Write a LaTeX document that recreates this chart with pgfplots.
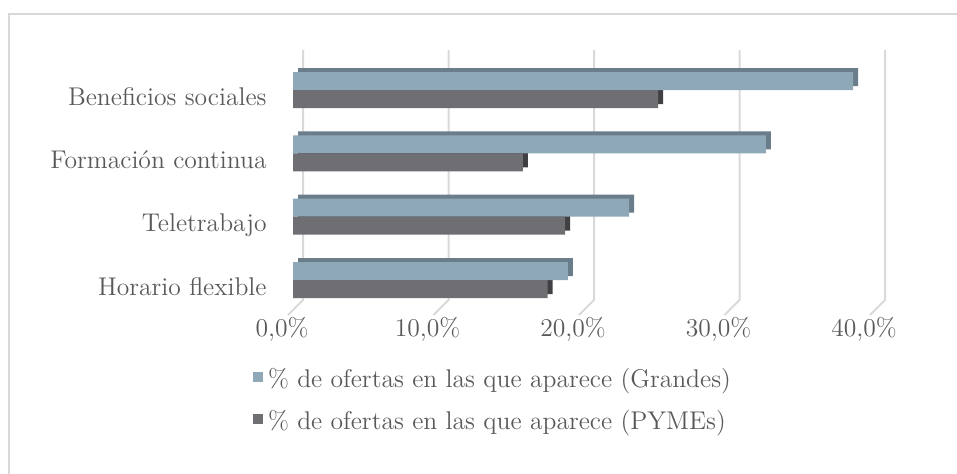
\documentclass[border=0pt]{standalone}
\usepackage{pgfplots}
\pgfplotsset{compat=1.18}

\definecolor{txt}{HTML}{595959}
\definecolor{gridc}{HTML}{D9D9D9}
\definecolor{grandes}{HTML}{8FA8B8}
\definecolor{grandesdk}{HTML}{6A7D8B}
\definecolor{pymes}{HTML}{6F6E73}
\definecolor{pymesdk}{HTML}{404044}

% beneficios por categoria: 0 Horario, 1 Teletrabajo, 2 Formacion, 3 Beneficios
\pgfplotstableread{
cat grandes pymes
0   18.9    17.5
1   23.1    18.7
2   32.5    15.8
3   38.5    25.1
}\datos

\begin{document}
\begin{tikzpicture}
% marco del grafico
\draw[gridc, line width=0.75pt] (4.5pt,-250pt) -- (4.5pt,-7pt) -- (490pt,-7pt);

\begin{axis}[
    at={(146.5pt,-155.85pt)}, anchor=south west,
    scale only axis,
    width=291pt, height=126.67pt,
    xmin=0, xmax=40,
    ymin=-0.5, ymax=3.5,
    clip=false,
    axis line style={draw=none},
    tick style={draw=none},
    major tick length=0pt,
    xbar, bar width=9pt,
    xtick={0,10,20,30,40},
    xticklabels={{0,0\%},{10,0\%},{20,0\%},{30,0\%},{40,0\%}},
    ytick={0,1,2,3},
    yticklabels={Horario flexible,Teletrabajo,Formación continua,Beneficios sociales},
    tick label style={font=\fontsize{12.8}{15}\selectfont, text=txt},
    xticklabel style={anchor=base, inner sep=0pt, xshift=-5.5pt, yshift=-12.2pt},
    yticklabel style={anchor=base east, inner sep=0pt, xshift=-13pt, yshift=-7.5pt},
    legend style={at={(-0.0687,-0.230)}, anchor=north west,
        draw=none, fill=none, inner sep=0pt, outer sep=0pt,
        font=\fontsize{12.8}{15}\selectfont, text=txt,
        nodes={inner sep=0pt, text height=9pt, text depth=3pt},
        row sep=9pt},
    legend cell align=left,
    /tikz/every odd column/.append style={column sep=2.5pt},
    legend image code/.code={\fill[#1] (0pt,0pt) rectangle (5pt,5pt);},
]
% lineas de division en perspectiva
\pgfplotsinvokeforeach{0,10,20,30,40}{
  \draw[gridc, line width=1pt]
    ([xshift=5pt]axis cs:#1,3.63) -- ([xshift=5pt]axis cs:#1,-0.316)
    -- ([xshift=-2.5pt]axis cs:#1,-0.553);
}
% caras de profundidad
\addplot[forget plot, fill=grandesdk, draw=none, bar shift=4.5pt,
    xshift=2.5pt, yshift=2pt] table[x=grandes, y=cat] {\datos};
\addplot[forget plot, fill=pymesdk, draw=none, bar shift=-4.5pt,
    xshift=2.5pt, yshift=2pt] table[x=pymes, y=cat] {\datos};
% caras frontales
\addplot[fill=grandes, draw=none, bar shift=4.5pt] table[x=grandes, y=cat] {\datos};
\addlegendentry{\% de ofertas en las que aparece (Grandes)}
\addplot[fill=pymes, draw=none, bar shift=-4.5pt] table[x=pymes, y=cat] {\datos};
\addlegendentry{\% de ofertas en las que aparece (PYMEs)}
\end{axis}

\pgfresetboundingbox
\useasboundingbox (0pt,0pt) rectangle (478.5pt,-236.5pt);
\end{tikzpicture}
\end{document}
